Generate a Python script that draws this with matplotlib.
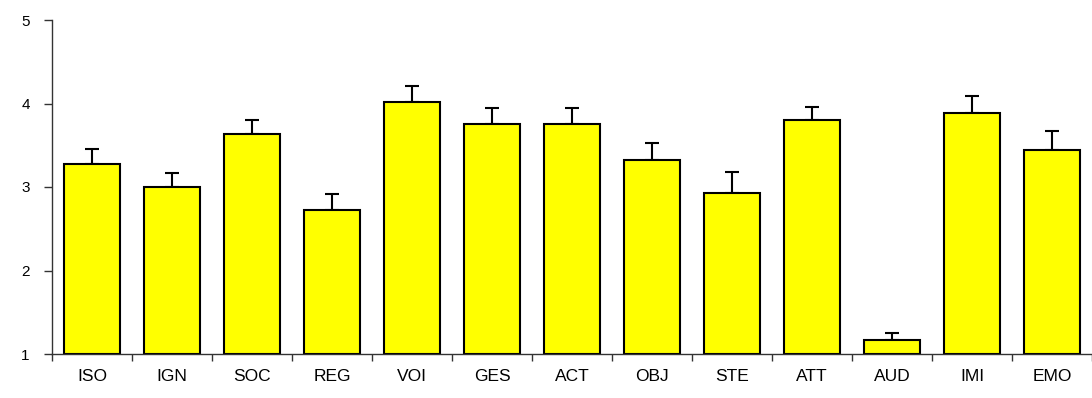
import matplotlib
matplotlib.use("Agg")
import matplotlib.pyplot as plt
import numpy as np

categories = ["ISO", "IGN", "SOC", "REG", "VOI", "GES", "ACT", "OBJ", "STE", "ATT", "AUD", "IMI", "EMO"]
means = [3.28, 3.00, 3.64, 2.73, 4.02, 3.76, 3.76, 3.32, 2.93, 3.80, 1.17, 3.89, 3.44]
upper = [3.45, 3.17, 3.80, 2.92, 4.21, 3.95, 3.95, 3.53, 3.18, 3.96, 1.25, 4.09, 3.67]
yticks = [1, 2, 3, 4, 5]

plt.rcParams["font.family"] = ["Liberation Sans", "DejaVu Sans"]

fig = plt.figure(figsize=(10.92, 3.98), dpi=100)
ax = fig.add_axes([52 / 1092, 1 - 354 / 398, 1 - 52 / 1092, (354 - 20) / 398])

x = np.arange(len(categories))
base = 1.0
heights = np.array(means) - base
err = np.array(upper) - np.array(means)

ax.bar(x, heights, bottom=base, width=0.69, color="#ffff00", edgecolor="black",
       linewidth=1.5, zorder=2)
ax.errorbar(x, means, yerr=[np.zeros_like(err), err], fmt="none", ecolor="black",
            elinewidth=1.5, capsize=5, capthick=1.5, zorder=1)

ax.set_xlim(-0.5, len(categories) - 0.5)
ax.set_ylim(1, 5)
ax.set_yticks(yticks)
ax.set_yticklabels([str(t) for t in yticks], fontsize=11)
ax.set_xticks(x)
ax.set_xticklabels(categories, fontsize=12.5)
ax.tick_params(axis="x", length=0, pad=11)
ax.set_xticks(np.arange(len(categories) + 1) - 0.5, minor=True)
ax.tick_params(axis="x", which="minor", length=5, width=1, color="#333333")
ax.tick_params(axis="y", length=6, width=1, pad=10, color="#333333")

for side in ("top", "right"):
    ax.spines[side].set_visible(False)
for side in ("left", "bottom"):
    ax.spines[side].set_linewidth(1)
    ax.spines[side].set_color("#333333")

fig.savefig("out.png", dpi=100)
